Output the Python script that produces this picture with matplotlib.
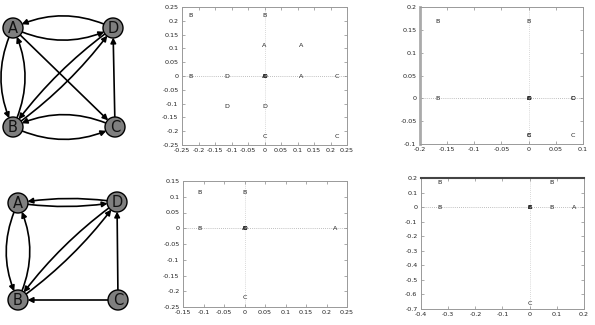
import matplotlib
matplotlib.use("Agg")
import matplotlib.pyplot as plt
from matplotlib.patches import Circle, FancyArrowPatch

# ---------------- data ----------------
node_names = ["A", "B", "C", "D"]
graph1_pos = {"A": (13, 28), "D": (113, 28), "B": (13, 127), "C": (115, 127)}
graph1_edges = [("D", "A"), ("A", "D"), ("A", "B"), ("B", "A"), ("A", "C"),
                ("B", "D"), ("D", "B"), ("B", "C"), ("C", "B"), ("C", "D")]
graph2_pos = {"A": (18, 203), "D": (117, 202), "B": (18, 300), "C": (118, 300)}
graph2_edges = [("D", "A"), ("A", "D"), ("A", "B"), ("B", "A"),
                ("B", "D"), ("D", "B"), ("C", "D"), ("C", "B")]

# scatter 1 (top middle)
s1_x = [-0.225, 0.0, 0.0, 0.11, -0.225, -0.115, 0.0, 0.0, 0.0, 0.0, 0.11, 0.22, -0.115, 0.0, 0.0, 0.22]
s1_y = [0.22, 0.22, 0.11, 0.11, 0.0, 0.0, 0.0, 0.0, 0.0, 0.0, 0.0, 0.0, -0.11, -0.11, -0.22, -0.22]
s1_lab = ["B", "B", "A", "A", "B", "D", "A", "B", "C", "D", "A", "C", "D", "D", "C", "C"]
s1_xticks = [-0.25, -0.2, -0.15, -0.1, -0.05, 0, 0.05, 0.1, 0.15, 0.2, 0.25]
s1_xticklabels = ["-0.25", "-0.2", "-0.15", "-0.1", "-0.05", "0", "0.05", "0.1", "0.15", "0.2", "0.25"]
s1_yticks = s1_xticks
s1_yticklabels = s1_xticklabels

# scatter 2 (top right)
s2_x = [-0.168, 0.0, -0.168, 0.0, 0.0, 0.0, 0.0, 0.082, 0.082, 0.0, 0.0, 0.082]
s2_y = [0.168, 0.168, 0.0, 0.0, 0.0, 0.0, 0.0, 0.0, 0.0, -0.081, -0.081, -0.081]
s2_lab = ["B", "B", "B", "A", "B", "C", "D", "C", "D", "B", "C", "C"]
s2_xticks = [-0.2, -0.15, -0.1, -0.05, 0, 0.05, 0.1]
s2_xticklabels = ["-0.2", "-0.15", "-0.1", "-0.05", "0", "0.05", "0.1"]
s2_yticks = [-0.1, -0.05, 0, 0.05, 0.1, 0.15, 0.2]
s2_yticklabels = ["-0.1", "-0.05", "0", "0.05", "0.1", "0.15", "0.2"]

# scatter 3 (bottom middle)
s3_x = [-0.11, 0.0, -0.11, 0.0, 0.0, 0.0, 0.0, 0.22, 0.0]
s3_y = [0.115, 0.115, 0.0, 0.0, 0.0, 0.0, 0.0, 0.0, -0.22]
s3_lab = ["B", "B", "B", "A", "B", "C", "D", "A", "C"]
s3_xticks = [-0.15, -0.1, -0.05, 0, 0.05, 0.1, 0.15, 0.2, 0.25]
s3_xticklabels = ["-0.15", "-0.1", "-0.05", "0", "0.05", "0.1", "0.15", "0.2", "0.25"]
s3_yticks = [-0.25, -0.2, -0.15, -0.1, -0.05, 0, 0.05, 0.1, 0.15]
s3_yticklabels = ["-0.25", "-0.2", "-0.15", "-0.1", "-0.05", "0", "0.05", "0.1", "0.15"]

# scatter 4 (bottom right)
s4_x = [-0.333, 0.081, -0.333, 0.0, 0.0, 0.0, 0.0, 0.081, 0.163, 0.0]
s4_y = [0.172, 0.172, 0.0, 0.0, 0.0, 0.0, 0.0, 0.0, 0.0, -0.662]
s4_lab = ["B", "B", "B", "A", "B", "C", "E", "B", "A", "C"]
s4_xticks = [-0.4, -0.3, -0.2, -0.1, 0, 0.1, 0.2]
s4_xticklabels = ["-0.4", "-0.3", "-0.2", "-0.1", "0", "0.1", "0.2"]
s4_yticks = [-0.7, -0.6, -0.5, -0.4, -0.3, -0.2, -0.1, 0, 0.1, 0.2]
s4_yticklabels = ["-0.7", "-0.6", "-0.5", "-0.4", "-0.3", "-0.2", "-0.1", "0", "0.1", "0.2"]

# ---------------- figure ----------------
fig = plt.figure(figsize=(5.95, 3.25), dpi=100)
fig.patch.set_facecolor("white")

# graph axes in pixel coordinates
gax = fig.add_axes([0, 0, 150 / 595, 1])
gax.set_xlim(0, 150)
gax.set_ylim(325, 0)
gax.axis("off")

R = 10


def draw_graph(pos, edges):
    circles = {}
    for n in node_names:
        c = Circle(pos[n], R, facecolor="#7f7f7f", edgecolor="black", lw=1.0, zorder=3)
        gax.add_patch(c)
        circles[n] = c
        gax.text(pos[n][0], pos[n][1] + 0.5, n, ha="center", va="center",
                 fontsize=10.5, color="#111111", zorder=4)
    edge_set = set(edges)
    for a, b in edges:
        paired = (b, a) in edge_set
        if paired:
            diag = pos[a][0] != pos[b][0] and pos[a][1] != pos[b][1]
            rad = 0.08 if diag else 0.24
        else:
            rad = 0.0
        arr = FancyArrowPatch(pos[a], pos[b], patchA=circles[a], patchB=circles[b],
                              connectionstyle=f"arc3,rad={rad}",
                              arrowstyle="-|>", mutation_scale=8, lw=1.2,
                              color="black", zorder=2, shrinkA=0, shrinkB=0)
        gax.add_patch(arr)


draw_graph(graph1_pos, graph1_edges)
draw_graph(graph2_pos, graph2_edges)

W, H = 595, 325


def rect(l, r, t, b):
    return [l / W, 1 - b / H, (r - l) / W, (b - t) / H]


def scatter_panel(box, xs, ys, labs, xt, xtl, yt, ytl):
    ax = fig.add_axes(box)
    ax.set_xlim(xt[0], xt[-1])
    ax.set_ylim(yt[0], yt[-1])
    ax.axhline(0, color="#aaaaaa", lw=0.6, ls=(0, (1, 1.5)), zorder=1)
    ax.axvline(0, color="#cccccc", lw=0.6, ls=(0, (1, 1.5)), zorder=1)
    for x, y, s in zip(xs, ys, labs):
        ax.text(x, y, s, ha="center", va="center", fontsize=4.6, color="#222222", zorder=3)
    ax.set_xticks(xt)
    ax.set_xticklabels(xtl)
    ax.set_yticks(yt)
    ax.set_yticklabels(ytl)
    ax.tick_params(direction="in", length=2, width=0.5, labelsize=4.6, pad=2.5,
                   top=True, right=True, color="#888888", labelcolor="#222222")
    for sp in ax.spines.values():
        sp.set_color("#999999")
        sp.set_linewidth(0.7)
    return ax


ax1 = scatter_panel(rect(182, 347, 7, 145), s1_x, s1_y, s1_lab,
                    s1_xticks, s1_xticklabels, s1_yticks, s1_yticklabels)
ax2 = scatter_panel(rect(420, 583, 7, 144), s2_x, s2_y, s2_lab,
                    s2_xticks, s2_xticklabels, s2_yticks, s2_yticklabels)
ax2.spines["left"].set_linewidth(2.0)
ax2.spines["left"].set_color("#aaaaaa")
ax3 = scatter_panel(rect(183, 347, 181, 307), s3_x, s3_y, s3_lab,
                    s3_xticks, s3_xticklabels, s3_yticks, s3_yticklabels)
ax4 = scatter_panel(rect(421, 584, 178, 309), s4_x, s4_y, s4_lab,
                    s4_xticks, s4_xticklabels, s4_yticks, s4_yticklabels)
ax4.spines["top"].set_linewidth(1.5)
ax4.spines["top"].set_color("#444444")

fig.savefig("out.png", dpi=100, facecolor="white")
